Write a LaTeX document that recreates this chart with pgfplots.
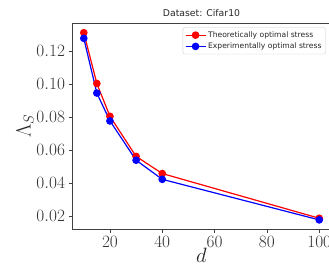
\documentclass[border=0pt]{standalone}
\usepackage{fontspec}
\setsansfont{DejaVu Sans}
\usepackage{pgfplots}
\pgfplotsset{compat=1.18}
\begin{document}
\begin{tikzpicture}
\begin{axis}[
  name=ax,
  scale only axis,
  width=259pt, height=206pt,
  xmin=5.5, xmax=104.5,
  ymin=0.0119, ymax=0.1368,
  xtick={20,40,60,80,100},
  ytick={0.02,0.04,0.06,0.08,0.10,0.12},
  yticklabel style={/pgf/number format/.cd,fixed,fixed zerofill,precision=2},
  scaled y ticks=false,
  tick align=outside,
  tick pos=left,
  major tick length=3.5pt,
  axis line style={black!75, line width=0.8pt},
  every tick/.style={black!75, line width=0.8pt},
  ticklabel style={font=\fontsize{16}{19}\selectfont, text=black!80},
  xlabel={$d$},
  ylabel={$\Lambda_S$},
  label style={font=\fontsize{20}{24}\selectfont, text=black!85},
  xlabel style={yshift=6pt},
  ylabel style={yshift=-4pt},
  title={Dataset: Cifar10},
  title style={font=\sffamily\fontsize{9.3}{11}\selectfont, text=black!85, yshift=-3pt},
  legend style={at={(1,1)}, anchor=north east, xshift=-5.3pt, yshift=-4pt,
    font=\sffamily\fontsize{7.6}{9}\selectfont, draw=black!20, rounded corners=2pt,
    row sep=0pt, inner sep=2pt, text=black!85},
  legend cell align=left,
  legend image code/.code={
    \draw[#1] (0pt,0pt) -- (20pt,0pt);
    \draw[#1, mark repeat=1] plot coordinates {(10pt,0pt)};
  },
]
\addplot[red, line width=1.2pt, mark=*, mark size=3.2pt] coordinates {
  (10,0.1311) (15,0.1003) (20,0.0804) (30,0.0561) (40,0.0457) (100,0.0186)
};
\addlegendentry{Theoretically optimal stress}
\addplot[blue, line width=1.2pt, mark=*, mark size=3.2pt] coordinates {
  (10,0.1277) (15,0.0945) (20,0.0776) (30,0.0538) (40,0.0422) (100,0.0176)
};
\addlegendentry{Experimentally optimal stress}
\end{axis}
\pgfresetboundingbox
\useasboundingbox ([xshift=-72pt,yshift=-40.7pt]ax.south west) rectangle ([xshift=257pt,yshift=229.3pt]ax.south west);
\end{tikzpicture}
\end{document}
